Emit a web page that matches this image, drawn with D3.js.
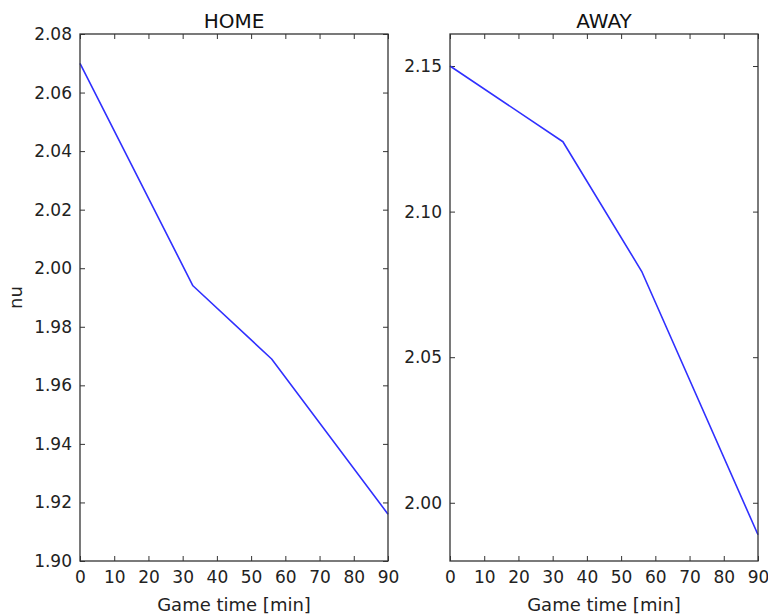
<!DOCTYPE html>
<html>
<head>
<meta charset="utf-8">
<script src="https://cdn.jsdelivr.net/npm/d3@7"></script>
<style>
  html, body { margin: 0; padding: 0; background: #fff; }
  svg { display: block; font-family: "DejaVu Sans", sans-serif; }
</style>
</head>
<body>
<svg id="chart" width="768" height="614"></svg>
<script>
// Game time (minutes) at which nu is sampled
const gameTime = [0, 33, 56, 90];
// nu for the home side
const homeNu = [2.07, 1.994, 1.969, 1.916];
// nu for the away side
const awayNu = [2.15, 2.124, 2.0795, 1.989];

const xTicks = [0, 10, 20, 30, 40, 50, 60, 70, 80, 90];
const homeYTicks = [1.90, 1.92, 1.94, 1.96, 1.98, 2.00, 2.02, 2.04, 2.06, 2.08];
const awayYTicks = [2.00, 2.05, 2.10, 2.15];

const homeDomain = [1.90, 2.08];
const awayDomain = [1.980, 2.161];

const svg = d3.select("#chart");
const plotTop = 34, plotBottom = 561;
const spineColor = "#333";

function panel(left, right, title, values, yDomain, yTicks, yFmt, yLabel) {
  const x = d3.scaleLinear().domain([0, 90]).range([left, right]);
  const y = d3.scaleLinear().domain(yDomain).range([plotBottom, plotTop]);
  const g = svg.append("g");

  const tickLen = 5;
  // bottom x axis, ticks pointing inward
  const gx = g.append("g").attr("transform", `translate(0,${plotBottom})`)
    .call(d3.axisBottom(x).tickValues(xTicks).tickSize(-tickLen).tickPadding(10).tickFormat(d3.format("d")));
  // mirrored ticks on the top edge
  const gxt = g.append("g").attr("transform", `translate(0,${plotTop})`)
    .call(d3.axisTop(x).tickValues(xTicks).tickSize(-tickLen).tickFormat(""));
  // left y axis, ticks pointing inward
  const gy = g.append("g").attr("transform", `translate(${left},0)`)
    .call(d3.axisLeft(y).tickValues(yTicks).tickSize(-tickLen).tickPadding(8).tickFormat(d3.format(yFmt)));
  // mirrored ticks on the right edge
  const gyr = g.append("g").attr("transform", `translate(${right},0)`)
    .call(d3.axisRight(y).tickValues(yTicks).tickSize(-tickLen).tickFormat(""));

  [gx, gxt, gy, gyr].forEach(a => {
    a.select(".domain").remove();
    a.selectAll(".tick line").attr("stroke", spineColor).attr("stroke-width", 1);
    a.selectAll(".tick text").attr("fill", "#222").style("font-size", "17px")
      .style("font-family", "'DejaVu Sans', sans-serif");
  });

  // nu over game time
  const line = d3.line().x((d, i) => x(gameTime[i])).y(d => y(d));
  g.append("path").datum(values)
    .attr("d", line)
    .attr("fill", "none")
    .attr("stroke", "#3030ff")
    .attr("stroke-width", 1.6)
    .attr("stroke-linejoin", "round");

  // axes frame
  g.append("rect")
    .attr("x", left).attr("y", plotTop)
    .attr("width", right - left).attr("height", plotBottom - plotTop)
    .attr("fill", "none").attr("stroke", spineColor).attr("stroke-width", 1.3);

  g.append("text").attr("x", (left + right) / 2).attr("y", 28)
    .attr("text-anchor", "middle").attr("fill", "#111")
    .style("font-size", "20px").text(title);

  g.append("text").attr("x", (left + right) / 2).attr("y", 611)
    .attr("text-anchor", "middle").attr("fill", "#222")
    .style("font-size", "18px").text("Game time [min]");

  if (yLabel) {
    g.append("text").attr("transform", `translate(22,${(plotTop + plotBottom) / 2}) rotate(-90)`)
      .attr("text-anchor", "middle").attr("fill", "#222")
      .style("font-size", "18px").text(yLabel);
  }
}

panel(80, 388, "HOME", homeNu, homeDomain, homeYTicks, ".2f", "nu");
panel(450, 758, "AWAY", awayNu, awayDomain, awayYTicks, ".2f", null);
</script>
</body>
</html>
